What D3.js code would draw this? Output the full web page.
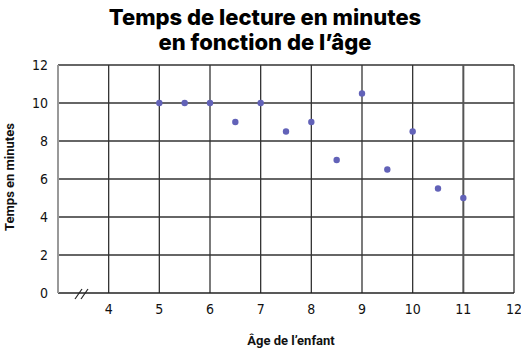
<!DOCTYPE html>
<html>
<head>
<meta charset="utf-8">
<script src="https://cdn.jsdelivr.net/npm/d3@7"></script>
<style>
  body { margin: 0; background: #fff; }
  svg { display: block; }
</style>
</head>
<body>
<svg id="chart" width="521" height="351"></svg>
<script>
const ages = [5, 5.5, 6, 6.5, 7, 7.5, 8, 8.5, 9, 9.5, 10, 10.5, 11];
const minutes = [10, 10, 10, 9, 10, 8.5, 9, 7, 10.5, 6.5, 8.5, 5.5, 5];
const xTicks = [4, 5, 6, 7, 8, 9, 10, 11, 12];
const yTicks = [0, 2, 4, 6, 8, 10, 12];
const titleLines = ["Temps de lecture en minutes", "en fonction de l’âge"];

const svg = d3.select("#chart");

const x = d3.scaleLinear().domain([3, 12]).range([58, 514]);
const y = d3.scaleLinear().domain([0, 12]).range([293, 65]);

// grid
svg.append("g")
  .selectAll("line")
  .data(yTicks.slice(1))
  .join("line")
  .attr("x1", x(3)).attr("x2", x(12))
  .attr("y1", d => y(d)).attr("y2", d => y(d))
  .attr("stroke", "#333").attr("stroke-width", 1.3);

svg.append("g")
  .selectAll("line")
  .data(xTicks)
  .join("line")
  .attr("x1", d => x(d)).attr("x2", d => x(d))
  .attr("y1", y(0)).attr("y2", y(12))
  .attr("stroke", d => d === 11 ? "#555" : "#333")
  .attr("stroke-width", d => d === 11 ? 2 : 1.3);

// axes lines
svg.append("line")
  .attr("x1", x(3)).attr("x2", x(12))
  .attr("y1", y(0)).attr("y2", y(0))
  .attr("stroke", "#222").attr("stroke-width", 1.5);
svg.append("line")
  .attr("x1", x(3)).attr("x2", x(3))
  .attr("y1", y(0)).attr("y2", y(12))
  .attr("stroke", "#999").attr("stroke-width", 2);

// axis break //
svg.append("g")
  .selectAll("line")
  .data([0, 6])
  .join("line")
  .attr("x1", d => 75 + d).attr("y1", 299)
  .attr("x2", d => 82 + d).attr("y2", 289)
  .attr("stroke", "#222").attr("stroke-width", 1.2);

const tickFont = "'DejaVu Sans Condensed', 'Roboto', sans-serif";

svg.append("g")
  .selectAll("text")
  .data(yTicks)
  .join("text")
  .attr("x", 48)
  .attr("y", d => y(d))
  .attr("dy", "0.35em")
  .attr("text-anchor", "end")
  .attr("font-family", tickFont)
  .attr("font-size", 14)
  .attr("fill", "#111")
  .text(d => d);

svg.append("g")
  .selectAll("text")
  .data(xTicks)
  .join("text")
  .attr("x", d => x(d))
  .attr("y", 309)
  .attr("dy", "0.35em")
  .attr("text-anchor", "middle")
  .attr("font-family", tickFont)
  .attr("font-size", 14)
  .attr("fill", "#111")
  .text(d => d);

// points
svg.append("g")
  .selectAll("circle")
  .data(ages)
  .join("circle")
  .attr("cx", d => x(d))
  .attr("cy", (d, i) => y(minutes[i]))
  .attr("r", 3.2)
  .attr("fill", "#6262b8");

// titles
svg.append("g")
  .selectAll("text")
  .data(titleLines)
  .join("text")
  .attr("x", 265)
  .attr("y", (d, i) => 25 + i * 25)
  .attr("text-anchor", "middle")
  .attr("font-family", "Inter, sans-serif")
  .attr("font-weight", 800)
  .attr("font-size", 22)
  .attr("fill", "#000")
  .text(d => d);

svg.append("text")
  .attr("x", 291)
  .attr("y", 345)
  .attr("text-anchor", "middle")
  .attr("font-family", "Roboto, sans-serif")
  .attr("font-weight", "bold")
  .attr("font-size", 13)
  .attr("fill", "#111")
  .text("Âge de l’enfant");

svg.append("text")
  .attr("transform", "translate(14,177) rotate(-90)")
  .attr("text-anchor", "middle")
  .attr("font-family", "Roboto, sans-serif")
  .attr("font-weight", "bold")
  .attr("font-size", 13)
  .attr("fill", "#111")
  .text("Temps en minutes");
</script>
</body>
</html>
